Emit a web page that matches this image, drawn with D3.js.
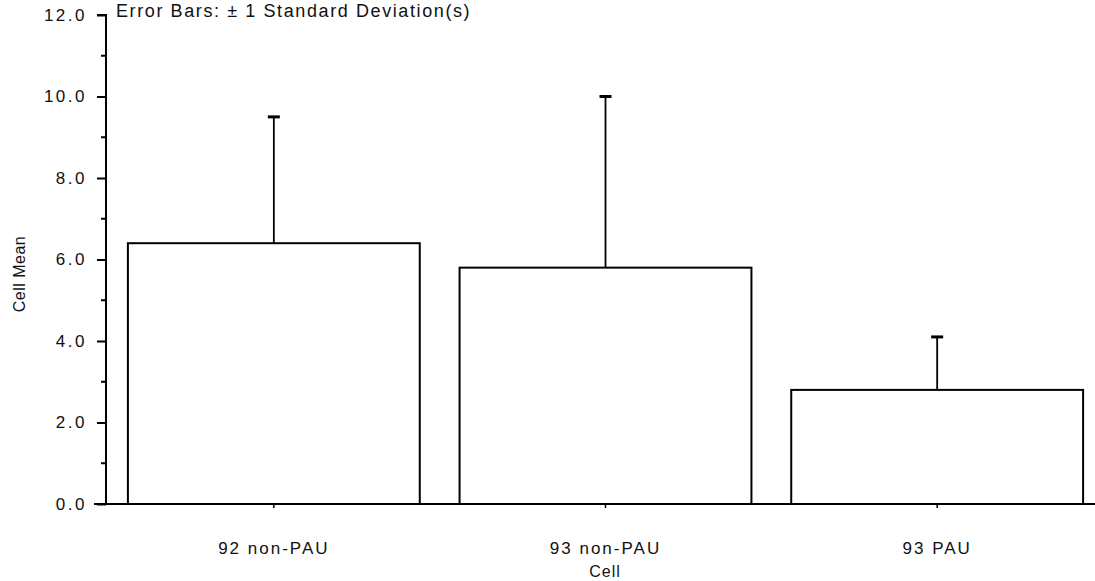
<!DOCTYPE html>
<html>
<head>
<meta charset="utf-8">
<script src="https://cdn.jsdelivr.net/npm/d3@7"></script>
<style>
  body { margin: 0; background: #fff; }
  text { font-family: "Liberation Sans", Arial, sans-serif; fill: #111; }
</style>
</head>
<body>
<svg id="chart" width="1095" height="581"></svg>
<script>
const categories = ['92 non-PAU', '93 non-PAU', '93 PAU']
const means = [6.4, 5.8, 2.8]
const stdDevs = [3.1, 4.2, 1.3]
const yTicks = [0, 2, 4, 6, 8, 10, 12]
const yMinorTicks = [1, 3, 5, 7, 9, 11]

const data = categories.map((c, i) => ({ cell: c, mean: means[i], sd: stdDevs[i] }))

const svg = d3.select('#chart')

const x = d3.scaleBand()
    .domain(categories)
    .range([108, 1103])
    .paddingInner(0.12)
    .paddingOuter(0.06)

const y = d3.scaleLinear()
    .domain([0, 12])
    .range([504, 15])

const axisX = 106

// title (cut off at the top in the scan)
svg.append('text')
    .attr('x', 116)
    .attr('y', 17)
    .attr('font-size', 18)
    .attr('letter-spacing', 1.6)
    .text('Error Bars: \u00b1 1 Standard Deviation(s)')

// y axis
const yAxis = d3.axisLeft(y)
    .tickValues(yTicks)
    .tickSize(9)
    .tickPadding(10)
    .tickFormat(d3.format('.1f'))

const gy = svg.append('g')
    .attr('transform', `translate(${axisX},0)`)
    .call(yAxis)
gy.attr('font-size', null).attr('font-family', null)
gy.select('.domain').attr('stroke-width', 2).attr('d', `M-9,${y(12)}H0V${y(0)}`)
gy.selectAll('.tick line').attr('stroke-width', 2)
gy.selectAll('.tick text')
    .style('font-size', '17px')
    .attr('letter-spacing', 2.5)

gy.selectAll('.minor')
    .data(yMinorTicks)
    .enter()
    .append('line')
    .attr('x1', -5)
    .attr('x2', 0)
    .attr('y1', d => y(d))
    .attr('y2', d => y(d))
    .attr('stroke', '#000')
    .attr('stroke-width', 2)

// x axis baseline
svg.append('line')
    .attr('x1', 94)
    .attr('x2', 1095)
    .attr('y1', y(0))
    .attr('y2', y(0))
    .attr('stroke', '#000')
    .attr('stroke-width', 2)

const xAxis = d3.axisBottom(x)
    .tickSize(4)
    .tickPadding(46)
const gx = svg.append('g')
    .attr('transform', `translate(0,${y(0)})`)
    .call(xAxis)
gx.attr('font-size', null).attr('font-family', null)
gx.select('.domain').remove()
gx.selectAll('.tick line').attr('stroke-width', 1.5)
gx.selectAll('.tick text')
    .style('font-size', '17px')
    .attr('letter-spacing', 2)
    .attr('dy', '0')

// bars
svg.selectAll('rect.bar')
    .data(data)
    .enter()
    .append('rect')
    .attr('class', 'bar')
    .attr('x', d => x(d.cell))
    .attr('width', x.bandwidth())
    .attr('y', d => y(d.mean))
    .attr('height', d => y(0) - y(d.mean))
    .attr('fill', '#fff')
    .attr('stroke', '#000')
    .attr('stroke-width', 2)

// error bars (upper only)
svg.selectAll('line.err')
    .data(data)
    .enter()
    .append('line')
    .attr('class', 'err')
    .attr('x1', d => x(d.cell) + x.bandwidth() / 2)
    .attr('x2', d => x(d.cell) + x.bandwidth() / 2)
    .attr('y1', d => y(d.mean))
    .attr('y2', d => y(d.mean + d.sd))
    .attr('stroke', '#000')
    .attr('stroke-width', 1.8)

svg.selectAll('line.cap')
    .data(data)
    .enter()
    .append('line')
    .attr('class', 'cap')
    .attr('x1', d => x(d.cell) + x.bandwidth() / 2 - 6)
    .attr('x2', d => x(d.cell) + x.bandwidth() / 2 + 6)
    .attr('y1', d => y(d.mean + d.sd))
    .attr('y2', d => y(d.mean + d.sd))
    .attr('stroke', '#000')
    .attr('stroke-width', 3)

// axis titles
svg.append('text')
    .attr('x', 605)
    .attr('y', 577)
    .attr('text-anchor', 'middle')
    .attr('font-size', 16)
    .attr('letter-spacing', 1)
    .text('Cell')

svg.append('text')
    .attr('transform', 'translate(25,274) rotate(-90)')
    .attr('text-anchor', 'middle')
    .attr('font-size', 16)
    .attr('letter-spacing', 0.5)
    .text('Cell Mean')
</script>
</body>
</html>
